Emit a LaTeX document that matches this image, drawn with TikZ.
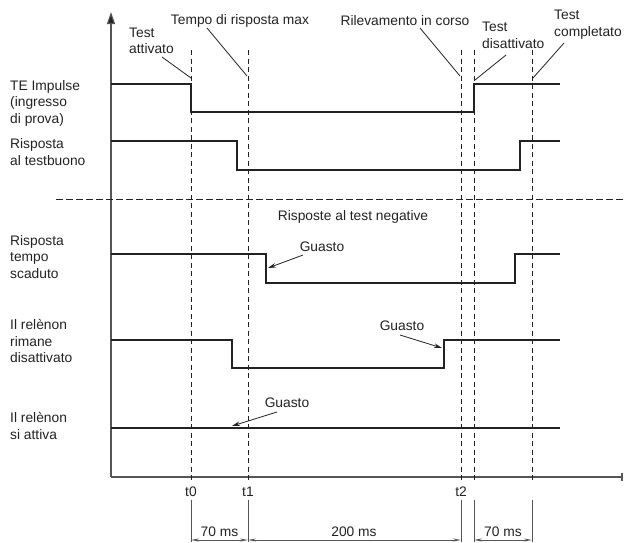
\documentclass[tikz,border=0pt]{standalone}
\usepackage{fontspec}
\setmainfont{Liberation Sans}
\usetikzlibrary{arrows.meta}
\definecolor{sigc}{HTML}{222222}
\definecolor{axc}{HTML}{555555}
\definecolor{txt}{HTML}{222222}
\begin{document}
\begin{tikzpicture}[x=1pt,y=-1pt,
  lbl/.style={font=\fontsize{13.8}{16.5}\selectfont, text=txt, inner sep=0pt, align=left},
  sig/.style={draw=sigc, line width=2.1pt, line join=miter},
  tline/.style={draw=sigc, line width=0.9pt, dash pattern=on 5pt off 3.5pt},
  sepline/.style={draw=sigc, line width=0.9pt, dash pattern=on 6.5pt off 3.5pt},
  lead/.style={draw=sigc, line width=0.8pt},
  leadarr/.style={draw=sigc, line width=0.8pt, -{Stealth[length=8pt,width=4.5pt]}},
  axis/.style={draw=axc, line width=1.2pt},
  dimv/.style={draw=axc, line width=1pt},
  dimarr/.style={draw=axc, line width=1pt, {Stealth[length=8pt,width=3pt]}-{Stealth[length=8pt,width=3pt]}}]
\useasboundingbox (0,0) rectangle (624,542);

% axes
\coordinate (org) at (111,477);
\coordinate (ytop) at (111,12);
\coordinate (xend) at (622,477);
\draw[axis,-{Triangle[length=12pt,width=8pt,fill=sigc]}] (org) -- (ytop);
\draw[axis] (org) -- (xend);
\draw[axis] (622,473) -- (622,481);

% time markers (dashed)
\foreach \x in {191,248,461,474,532}
  \draw[tline] (\x,50) -- (\x,481);
% separator
\draw[sepline] (56,199) -- (624,199);

% signals
\draw[sig] (111,84) -- (191,84) -- (191,112) -- (474,112) -- (474,84) -- (560,84);
\draw[sig] (111,141) -- (237,141) -- (237,170) -- (520,170) -- (520,141) -- (560,141);
\draw[sig] (111,254) -- (266,254) -- (266,283) -- (515,283) -- (515,254) -- (560,254);
\draw[sig] (111,340) -- (232,340) -- (232,368) -- (444,368) -- (444,340) -- (560,340);
\draw[sig] (111,428) -- (560,428);

% left labels
\node[lbl, anchor=west] (l1) at (10,103) {TE Impulse\\(ingresso\\di prova)};
\node[lbl, anchor=west] (l2) at (10,152) {Risposta\\al testbuono};
\node[lbl, anchor=west] (l3) at (10,257) {Risposta\\tempo\\scaduto};
\node[lbl, anchor=west] (l4) at (10,341) {Il relènon\\rimane\\disattivato};
\node[lbl, anchor=west] (l5) at (10,426) {Il relènon\\si attiva};

% top labels
\node[lbl, anchor=west] (ta) at (129,41) {Test\\attivato};
\node[lbl] (trm) at (240,21) {Tempo di risposta max};
\node[lbl] (ric) at (405,21) {Rilevamento in corso};
\node[lbl, anchor=west] (td) at (482,35.5) {Test\\disattivato};
\node[lbl, anchor=west] (tc) at (554,24.5) {Test\\completato};

\coordinate (ta-a) at (162,57);  \coordinate (ta-b) at (191,78);
\coordinate (trm-a) at (207,28); \coordinate (trm-b) at (247,76);
\coordinate (ric-a) at (420,28); \coordinate (ric-b) at (460,76);
\coordinate (td-a) at (506,55);  \coordinate (td-b) at (475,80);
\coordinate (tc-a) at (564,43);  \coordinate (tc-b) at (533,78);
\draw[lead] (ta-a) -- (ta-b);
\draw[lead] (trm-a) -- (trm-b);
\draw[lead] (ric-a) -- (ric-b);
\draw[lead] (td-a) -- (td-b);
\draw[lead] (tc-a) -- (tc-b);

% negative section
\node[lbl] (neg) at (353,217) {Risposte al test negative};
\node[lbl] (g1) at (322,247) {Guasto};
\node[lbl] (g2) at (402,326) {Guasto};
\node[lbl] (g3) at (287,403) {Guasto};
\coordinate (g1-a) at (303,255); \coordinate (g1-b) at (268,268);
\coordinate (g2-a) at (400,335); \coordinate (g2-b) at (442,348);
\coordinate (g3-a) at (277,412); \coordinate (g3-b) at (232,426);
\draw[leadarr] (g1-a) -- (g1-b);
\draw[leadarr] (g2-a) -- (g2-b);
\draw[leadarr] (g3-a) -- (g3-b);

% time labels
\node[lbl] (t0) at (191,492) {t0};
\node[lbl] (t1) at (248,492) {t1};
\node[lbl] (t2) at (461,492) {t2};

% dimensions
\foreach \x/\n in {191/d0,248/d1,461/d2,474/d3,532/d4}{
  \coordinate (\n-top) at (\x,500);
  \coordinate (\n) at (\x,540);
  \draw[dimv] (\n-top) -- (\x,541.5);
}
\draw[dimarr] (d0) -- (d1);
\draw[dimarr] (d1) -- (d2);
\draw[dimarr] (d3) -- (d4);
\node[lbl] (m1) at (219.5,532) {70 ms};
\node[lbl] (m2) at (354,532) {200 ms};
\node[lbl] (m3) at (503,532) {70 ms};
\end{tikzpicture}
\end{document}
